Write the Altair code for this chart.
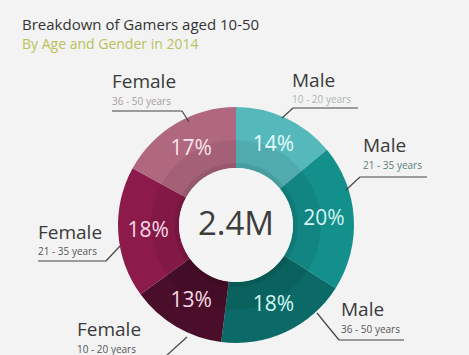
import altair as alt
import pandas as pd

# ---- data ----
segments = ["Male 10-20", "Male 21-35", "Male 36-50", "Female 10-20", "Female 21-35", "Female 36-50"]
shares = [14, 20, 18, 13, 18, 17]
pct_labels = ["14%", "20%", "18%", "13%", "18%", "17%"]
genders = ["Male", "Male", "Male", "Female", "Female", "Female"]
age_groups = ["10 - 20 years", "21 - 35 years", "36 - 50 years",
              "10 - 20 years", "21 - 35 years", "36 - 50 years"]
total_label = "2.4M"
title_text = "Breakdown of Gamers aged 10-50"
subtitle_text = "By Age and Gender in 2014"

# ---- styles ----
seg_colors = ["#55b8bb", "#14908c", "#0b6a67", "#4a0e2a", "#8c1b4b", "#b0687f"]
pct_colors = ["#e6fbfb", "#d4f6f3", "#d4f6f3", "#f6dbe6", "#f6dbe6", "#f8e4eb"]
age_colors = ["#a9b3b3", "#58807c", "#555555", "#555555", "#555555", "#a89ea2"]

# ---- layout (page pixels) ----
OX, OY = 4, 95
W, H = 464, 260
callout_x = [292, 363, 341, 77, 38, 112]
callout_y = [87, 152, 316, 336, 239, 88]
age_y = [103, 169, 333, 353, 255, 105]
lines = [
    [(282, 118), (293, 108), (358, 108)],
    [(346, 190), (360, 177), (427, 177)],
    [(317, 313), (339, 340), (404, 340)],
    [(187, 337), (166, 356), (100, 356)],
    [(120, 246), (106, 261), (38, 261)],
    [(189, 122), (182, 111), (112, 111)],
]

df = pd.DataFrame({
    "idx": list(range(len(segments))),
    "segment": segments,
    "share": shares,
    "pct": pct_labels,
    "pcol": pct_colors,
})

full = pd.DataFrame({"v": [100]})

ring = alt.Chart(df).mark_arc(radius=118, radius2=57).encode(
    theta=alt.Theta("share:Q", stack=True),
    color=alt.Color("segment:N", scale=alt.Scale(domain=segments, range=seg_colors), legend=None),
    order=alt.Order("idx:Q"),
)

inner_band = alt.Chart(full).mark_arc(radius=85, radius2=57, color="black", opacity=0.07).encode(
    theta=alt.Theta("v:Q")
)
hole_shadow = alt.Chart(full).mark_arc(radius=62, radius2=57, color="black", opacity=0.08).encode(
    theta=alt.Theta("v:Q")
)
hole = alt.Chart(full).mark_arc(radius=57, color="#f4f4f4").encode(
    theta=alt.Theta("v:Q")
)

pct_text = alt.Chart(df).mark_text(radius=88, fontSize=21, font="Open Sans").encode(
    theta=alt.Theta("share:Q", stack=True),
    order=alt.Order("idx:Q"),
    text="pct:N",
    color=alt.Color("pcol:N", scale=None),
)

center = alt.Chart(pd.DataFrame({"t": [total_label]})).mark_text(
    fontSize=33, font="Open Sans", color="#3d3d3d", baseline="middle"
).encode(x=alt.value(232), y=alt.value(130), text="t:N")

gender_df = pd.DataFrame({
    "px": [x - OX for x in callout_x],
    "py": [y - OY for y in callout_y],
    "t": genders,
})
age_df = pd.DataFrame({
    "px": [x - OX for x in callout_x],
    "py": [y - OY for y in age_y],
    "t": age_groups,
    "c": age_colors,
})

gender_text = alt.Chart(gender_df).mark_text(
    fontSize=19, font="Open Sans", color="#3a3a3a", align="left", baseline="alphabetic"
).encode(x=alt.X("px:Q", scale=None), y=alt.Y("py:Q", scale=None), text="t:N")

age_text = alt.Chart(age_df).mark_text(
    fontSize=10, font="Open Sans", align="left", baseline="alphabetic"
).encode(x=alt.X("px:Q", scale=None), y=alt.Y("py:Q", scale=None), text="t:N",
         color=alt.Color("c:N", scale=None))

rows = []
for k, pts in enumerate(lines):
    for (a, b) in zip(pts[:-1], pts[1:]):
        rows.append({"x": a[0] - OX, "y": a[1] - OY, "x2": b[0] - OX, "y2": b[1] - OY})
line_df = pd.DataFrame(rows)
leaders = alt.Chart(line_df).mark_rule(color="#444444", strokeWidth=1.2).encode(
    x=alt.X("x:Q", scale=None), y=alt.Y("y:Q", scale=None),
    x2="x2:Q", y2="y2:Q",
)

title_df = pd.DataFrame({"px": [22 - OX], "py": [30 - OY], "t": [title_text]})
sub_df = pd.DataFrame({"px": [22 - OX], "py": [49 - OY], "t": [subtitle_text]})
title = alt.Chart(title_df).mark_text(
    fontSize=15, font="Open Sans", color="#333333", align="left", baseline="alphabetic"
).encode(x=alt.X("px:Q", scale=None), y=alt.Y("py:Q", scale=None), text="t:N")
subtitle = alt.Chart(sub_df).mark_text(
    fontSize=14, font="Open Sans", color="#b8c25a", align="left", baseline="alphabetic"
).encode(x=alt.X("px:Q", scale=None), y=alt.Y("py:Q", scale=None), text="t:N")

chart = alt.layer(
    ring, inner_band, hole_shadow, hole, pct_text, center,
    leaders, gender_text, age_text, title, subtitle
).resolve_scale(color="independent").properties(
    width=W, height=H,
    padding={"left": OX, "top": OY, "right": 1, "bottom": 0},
    autosize="none",
    background="#f3f3f3",
).configure_view(stroke=None)

chart.save("out.html", embed_options={"renderer": "svg", "actions": False})
